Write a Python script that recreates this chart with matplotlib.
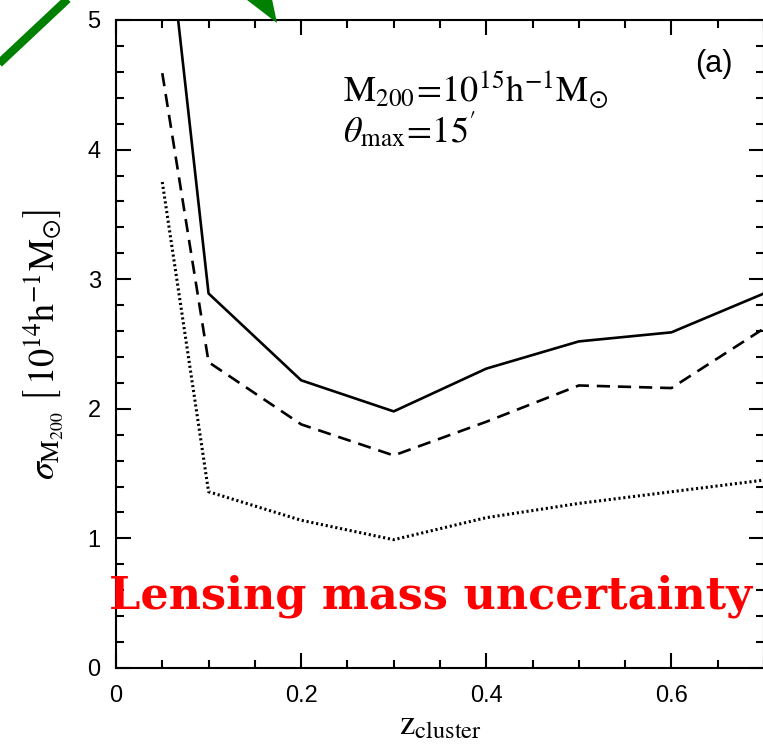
import matplotlib
matplotlib.use("Agg")
import matplotlib.pyplot as plt
from matplotlib.patches import Polygon
from matplotlib.lines import Line2D
from matplotlib.ticker import MultipleLocator

z = [0.05, 0.1, 0.2, 0.3, 0.4, 0.5, 0.6, 0.7]
sigma_solid = [6.1, 2.89, 2.22, 1.98, 2.31, 2.52, 2.59, 2.89]
sigma_dashed = [4.59, 2.36, 1.88, 1.64, 1.90, 2.18, 2.16, 2.62]
sigma_dotted = [3.75, 1.36, 1.14, 0.99, 1.16, 1.27, 1.36, 1.45]

plt.rcParams['mathtext.fontset'] = 'stix'
plt.rcParams['font.family'] = ['Liberation Sans', 'DejaVu Sans']

W, H = 763, 749
fig = plt.figure(figsize=(W / 100, H / 100), dpi=100)
ax = fig.add_axes([116 / W, 1 - 668 / H, (764 - 116) / W, (668 - 20) / H])

ax.plot(z, sigma_solid, color='black', lw=1.9, ls='-')
ax.plot(z, sigma_dashed, color='black', lw=1.9, ls=(0, (5, 3)))
ax.plot(z, sigma_dotted, color='black', lw=2.2, ls=(0, (0.7, 0.9)))

ax.set_xlim(0, 0.7)
ax.set_ylim(0, 5)
ax.xaxis.set_minor_locator(MultipleLocator(0.05))
ax.yaxis.set_minor_locator(MultipleLocator(0.2))
ax.set_xticks([0, 0.2, 0.4, 0.6])
ax.set_xticklabels(['0', '0.2', '0.4', '0.6'])
ax.set_yticks([0, 1, 2, 3, 4, 5])
ax.set_yticklabels(['0', '1', '2', '3', '4', '5'])
ax.tick_params(which='both', direction='in', top=True, right=True, width=1.5, labelsize=17)
ax.tick_params(axis='x', which='major', pad=12)
ax.tick_params(axis='y', which='major', pad=11)
ax.tick_params(which='major', length=11)
ax.tick_params(which='minor', length=6)
for s in ax.spines.values():
    s.set_linewidth(1.5)

ax.set_xlabel(r'$\mathrm{z_{cluster}}$', fontsize=25, labelpad=1)
ax.set_ylabel(r'$\sigma_{\mathrm{M_{200}}}\ \left[\,\mathrm{10^{14}h^{-1}M_{\odot}}\right]$', fontsize=26, labelpad=16)

ax.text(343 / W, 1 - 102 / H, r'$\mathrm{M_{200}\!=\!10^{15}h^{-1}M_{\odot}}$', transform=fig.transFigure,
        fontsize=26, ha='left', va='baseline')
ax.text(343 / W, 1 - 142 / H, r"$\theta_{\mathrm{max}}\!=\!\mathrm{15'}$", transform=fig.transFigure,
        fontsize=26, ha='left', va='baseline')
ax.text(714 / W, 1 - 64 / H, '(a)', transform=fig.transFigure, fontsize=22, ha='center', va='center')

fig.text(431 / W, 1 - 608 / H, 'Lensing mass uncertainty', color='red', fontsize=32,
         fontweight='bold', family=['DejaVu Serif'], ha='center', va='baseline')

def fp(px, py):
    return (px / W, 1 - py / H)

green = '#008000'
fig.add_artist(Line2D([fp(-10, 72)[0], fp(72, -5)[0]], [fp(-10, 72)[1], fp(72, -5)[1]],
                      transform=fig.transFigure, color=green, lw=6, solid_capstyle='butt'))
tri = Polygon([fp(221, -20), fp(268, -20), fp(277, 23)], closed=True, transform=fig.transFigure,
              facecolor=green, edgecolor=green, lw=0)
fig.add_artist(tri)

fig.savefig('out.png', dpi=100)
